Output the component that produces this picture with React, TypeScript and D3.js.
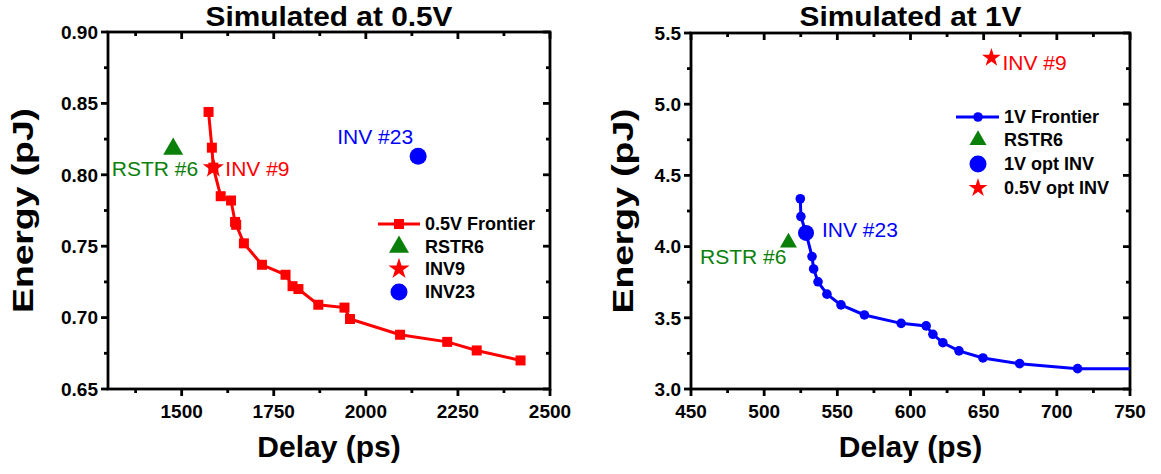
import React from 'react';
import * as d3 from 'd3';

// ---------- Data ----------
// Left panel: simulated at 0.5V
const frontier05Delay = [1573, 1582, 1586, 1606, 1634, 1645, 1648, 1669, 1718, 1782, 1801, 1817, 1871, 1942, 1957, 2093, 2221, 2301, 2420];
const frontier05Energy = [0.844, 0.819, 0.805, 0.785, 0.782, 0.767, 0.765, 0.752, 0.737, 0.730, 0.722, 0.720, 0.709, 0.707, 0.699, 0.688, 0.683, 0.677, 0.670];
const rstr6At05 = { delay: 1477, energy: 0.818 };
const inv9At05 = { delay: 1586, energy: 0.805 };
const inv23At05 = { delay: 2142, energy: 0.813 };

// Right panel: simulated at 1V
const frontier1Delay = [524.7, 525.1, 528.6, 532.7, 533.8, 536.8, 542.9, 552.5, 568.5, 593.6, 610.7, 615.3, 622.1, 633.1, 649.5, 674.6, 714.2, 790];
const frontier1Energy = [4.336, 4.211, 4.096, 3.93, 3.843, 3.753, 3.666, 3.591, 3.52, 3.461, 3.443, 3.384, 3.325, 3.268, 3.218, 3.178, 3.143, 3.143];
const rstr6At1 = { delay: 516.6, energy: 4.028 };
const inv23At1 = { delay: 528.6, energy: 4.096 };
const inv9At1 = { delay: 655.3, energy: 5.326 };

// Axes
const xTicks05 = [1500, 1750, 2000, 2250, 2500];
const xMinor05 = [1375, 1625, 1875, 2125, 2375];
const yTicks05 = [0.65, 0.70, 0.75, 0.80, 0.85, 0.90];
const yMinor05 = [0.675, 0.725, 0.775, 0.825, 0.875];
const xTicks1 = [450, 500, 550, 600, 650, 700, 750];
const xMinor1 = [475, 525, 575, 625, 675, 725];
const yTicks1 = [3.0, 3.5, 4.0, 4.5, 5.0, 5.5];
const yMinor1 = [3.25, 3.75, 4.25, 4.75, 5.25];

const legend05 = ['0.5V Frontier', 'RSTR6', 'INV9', 'INV23'];
const legend1 = ['1V Frontier', 'RSTR6', '1V opt INV', '0.5V opt INV'];

const RED = '#ff0000';
const GREEN = '#0a800a';
const BLUE = '#0000ff';
const FONT = "'Liberation Sans', Arial, Helvetica, sans-serif";

const star = (size: number) => d3.symbol().type(d3.symbolStar).size(size)() as string;
const tri = (size: number) => d3.symbol().type(d3.symbolTriangle).size(size)() as string;

type AxisProps = {
  x: d3.ScaleLinear<number, number>;
  y: d3.ScaleLinear<number, number>;
  xTicks: number[];
  xMinor: number[];
  yTicks: number[];
  yMinor: number[];
  xFmt: (n: number) => string;
  yFmt: (n: number) => string;
  title: string;
  titleLen: number;
  yLabelX: number;
};

function Frame({ x, y, xTicks, xMinor, yTicks, yMinor, xFmt, yFmt, title, titleLen, yLabelX }: AxisProps) {
  const [x0, x1] = x.range();
  const [y0, y1] = y.range(); // y0 bottom, y1 top
  const MAJ = 7;
  const MIN = 4;
  const sw = 2.8;
  return (
    <g>
      <rect x={x0} y={y1} width={x1 - x0} height={y0 - y1} fill="none" stroke="#000" strokeWidth={sw} />
      {xTicks.map((t) => (
        <g key={'xt' + t}>
          <line x1={x(t)} x2={x(t)} y1={y0} y2={y0 + MAJ} stroke="#000" strokeWidth={sw} />
          <line x1={x(t)} x2={x(t)} y1={y1} y2={y1 + MAJ} stroke="#000" strokeWidth={sw} />
          <text x={x(t)} y={418} textAnchor="middle" fontSize={19} fontWeight="bold" fontFamily={FONT}>
            {xFmt(t)}
          </text>
        </g>
      ))}
      {xMinor.map((t) => (
        <g key={'xm' + t}>
          <line x1={x(t)} x2={x(t)} y1={y0} y2={y0 + MIN} stroke="#000" strokeWidth={sw} />
          <line x1={x(t)} x2={x(t)} y1={y1} y2={y1 + MIN} stroke="#000" strokeWidth={sw} />
        </g>
      ))}
      {yTicks.map((t) => (
        <g key={'yt' + t}>
          <line x1={x0} x2={x0 - MAJ} y1={y(t)} y2={y(t)} stroke="#000" strokeWidth={sw} />
          <line x1={x1} x2={x1 - MAJ} y1={y(t)} y2={y(t)} stroke="#000" strokeWidth={sw} />
          <text x={x0 - 10} y={y(t)} dy="0.36em" textAnchor="end" fontSize={19} fontWeight="bold" fontFamily={FONT}>
            {yFmt(t)}
          </text>
        </g>
      ))}
      {yMinor.map((t) => (
        <g key={'ym' + t}>
          <line x1={x0} x2={x0 - MIN} y1={y(t)} y2={y(t)} stroke="#000" strokeWidth={sw} />
          <line x1={x1} x2={x1 - MIN} y1={y(t)} y2={y(t)} stroke="#000" strokeWidth={sw} />
        </g>
      ))}
      <text
        x={(x0 + x1) / 2}
        y={26}
        textAnchor="middle"
        fontSize={28}
        fontWeight="bold"
        fontFamily={FONT}
        textLength={titleLen}
        lengthAdjust="spacingAndGlyphs"
      >
        {title}
      </text>
      <text x={(x0 + x1) / 2} y={457} textAnchor="middle" fontSize={30} fontWeight="bold" fontFamily={FONT}>
        Delay (ps)
      </text>
      <text
        transform={`translate(${yLabelX},${(y0 + y1) / 2}) rotate(-90)`}
        textAnchor="middle"
        dy="0.35em"
        fontSize={30}
        fontWeight="bold"
        fontFamily={FONT}
        textLength={205}
        lengthAdjust="spacingAndGlyphs"
      >
        Energy (pJ)
      </text>
    </g>
  );
}

export default function App() {
  // Left panel scales
  const xL = d3.scaleLinear().domain([1300, 2500]).range([108, 550]);
  const yL = d3.scaleLinear().domain([0.65, 0.9]).range([389, 32]);
  // Right panel scales
  const xR = d3.scaleLinear().domain([450, 750]).range([691, 1130]);
  const yR = d3.scaleLinear().domain([3.0, 5.5]).range([389, 33]);

  const lineL = d3
    .line<number>()
    .x((_, i) => xL(frontier05Delay[i]))
    .y((_, i) => yL(frontier05Energy[i]));
  const lineR = d3
    .line<number>()
    .x((_, i) => xR(frontier1Delay[i]))
    .y((_, i) => yR(frontier1Energy[i]));

  const fmtInt = d3.format('d');
  const f2 = d3.format('.2f');
  const f1 = d3.format('.1f');

  const legLX = 399;
  const legLY = [224, 247, 269, 292];
  const legRX = 978;
  const legRY = [117, 140, 164, 188];

  return (
    <svg
      width={1161}
      height={474}
      style={{ position: 'absolute', left: 0, top: 0, background: '#fff' }}
      fontFamily={FONT}
    >
      <defs>
        <clipPath id="clipR">
          <rect x={691} y={33} width={439} height={356} />
        </clipPath>
      </defs>
      <rect x={0} y={0} width={1161} height={474} fill="#fff" />

      {/* ---------- Left panel ---------- */}
      <Frame
        x={xL}
        y={yL}
        xTicks={xTicks05}
        xMinor={xMinor05}
        yTicks={yTicks05}
        yMinor={yMinor05}
        xFmt={fmtInt}
        yFmt={f2}
        title="Simulated at 0.5V"
        titleLen={247}
        yLabelX={22}
      />
      <path d={lineL(frontier05Delay) as string} fill="none" stroke={RED} strokeWidth={3} />
      {frontier05Delay.map((d, i) => (
        <rect key={'sq' + i} x={xL(d) - 5} y={yL(frontier05Energy[i]) - 5} width={10} height={10} fill={RED} />
      ))}
      <path d={tri(173)} transform={`translate(${xL(rstr6At05.delay)},${yL(rstr6At05.energy)})`} fill={GREEN} />
      <path d={star(140)} transform={`translate(${xL(inv9At05.delay)},${yL(inv9At05.energy)})`} fill={RED} />
      <circle cx={xL(inv23At05.delay)} cy={yL(inv23At05.energy)} r={8.5} fill={BLUE} />
      <text x={xL(rstr6At05.delay) + 25} y={yL(rstr6At05.energy) + 27} textAnchor="end" fontSize={21} fill={GREEN}>
        RSTR #6
      </text>
      <text x={xL(inv9At05.delay) + 12} y={yL(inv9At05.energy) + 8} fontSize={21} fill={RED}>
        INV #9
      </text>
      <text x={xL(inv23At05.delay) - 5} y={yL(inv23At05.energy) - 12} textAnchor="end" fontSize={21} fill={BLUE}>
        INV #23
      </text>

      {/* Left legend */}
      <g>
        <line x1={legLX - 21} x2={legLX + 21} y1={legLY[0]} y2={legLY[0]} stroke={RED} strokeWidth={3} />
        <rect x={legLX - 5} y={legLY[0] - 5} width={10} height={10} fill={RED} />
        <path d={tri(173)} transform={`translate(${legLX},${legLY[1]})`} fill={GREEN} />
        <path d={star(140)} transform={`translate(${legLX},${legLY[2]})`} fill={RED} />
        <circle cx={legLX} cy={legLY[3]} r={8.5} fill={BLUE} />
        {legend05.map((t, i) => (
          <text key={t} x={425} y={legLY[i]} dy="0.36em" fontSize={18} fontWeight="bold">
            {t}
          </text>
        ))}
      </g>

      {/* ---------- Right panel ---------- */}
      <Frame
        x={xR}
        y={yR}
        xTicks={xTicks1}
        xMinor={xMinor1}
        yTicks={yTicks1}
        yMinor={yMinor1}
        xFmt={fmtInt}
        yFmt={f1}
        title="Simulated at 1V"
        titleLen={222}
        yLabelX={622}
      />
      <g clipPath="url(#clipR)">
        <path d={lineR(frontier1Delay) as string} fill="none" stroke={BLUE} strokeWidth={3} />
        {frontier1Delay.map((d, i) => (
          <circle key={'c' + i} cx={xR(d)} cy={yR(frontier1Energy[i])} r={4.8} fill={BLUE} />
        ))}
      </g>
      <circle cx={xR(inv23At1.delay)} cy={yR(inv23At1.energy)} r={8} fill={BLUE} />
      <path d={tri(125)} transform={`translate(${xR(rstr6At1.delay)},${yR(rstr6At1.energy)})`} fill={GREEN} />
      <path d={star(110)} transform={`translate(${xR(inv9At1.delay)},${yR(inv9At1.energy)})`} fill={RED} />
      <text x={xR(inv9At1.delay) + 11} y={yR(inv9At1.energy) + 12} fontSize={21} fill={RED}>
        INV #9
      </text>
      <text x={xR(inv23At1.delay) + 16} y={yR(inv23At1.energy) + 4} fontSize={21} fill={BLUE}>
        INV #23
      </text>
      <text x={xR(rstr6At1.delay) - 2} y={yR(rstr6At1.energy) + 21.5} textAnchor="end" fontSize={21} fill={GREEN}>
        RSTR #6
      </text>

      {/* Right legend */}
      <g>
        <line x1={legRX - 22} x2={legRX + 21} y1={legRY[0]} y2={legRY[0]} stroke={BLUE} strokeWidth={3} />
        <circle cx={legRX} cy={legRY[0]} r={4.8} fill={BLUE} />
        <path d={tri(125)} transform={`translate(${legRX},${legRY[1]})`} fill={GREEN} />
        <circle cx={legRX} cy={legRY[2]} r={8.5} fill={BLUE} />
        <path d={star(110)} transform={`translate(${legRX},${legRY[3]})`} fill={RED} />
        {legend1.map((t, i) => (
          <text key={t} x={1004} y={legRY[i]} dy="0.36em" fontSize={18} fontWeight="bold">
            {t}
          </text>
        ))}
      </g>
    </svg>
  );
}
